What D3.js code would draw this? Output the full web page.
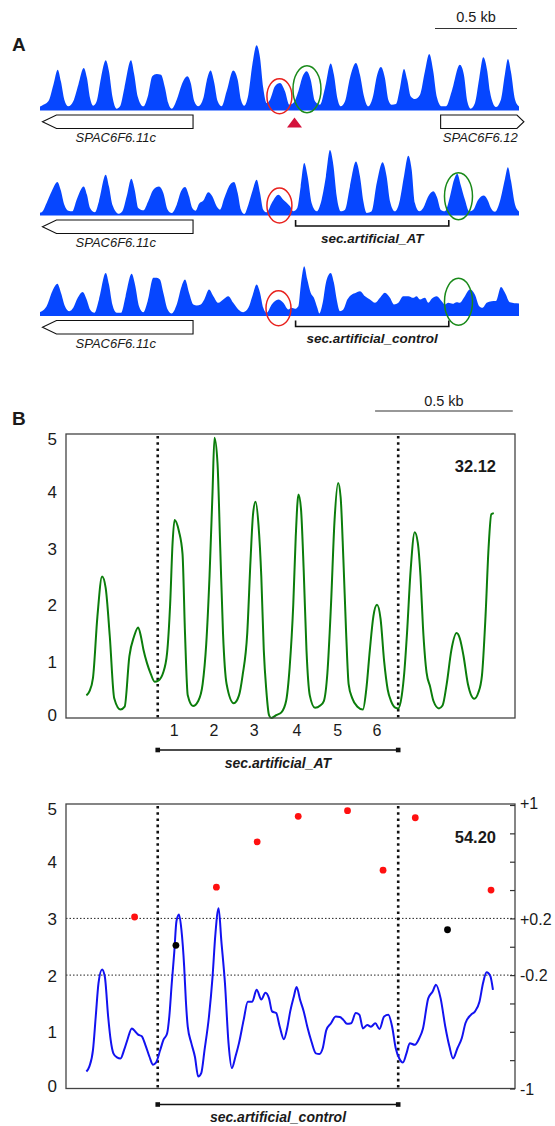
<!DOCTYPE html>
<html>
<head>
<meta charset="utf-8">
<title>Nucleosome profiles</title>
<script src="https://d3js.org/d3.v7.min.js"></script>
<style>
  body { margin: 0; background: #fff; }
  text { font-family: Arial, "Liberation Sans", sans-serif; fill: #1a1a1a; }
</style>
</head>
<body>
<script>
// ---------- panel A data: [position along locus, signal height] ----------
var trackWT = [[0,0.4],[11,0.52],[54,1.2],[87,3.8],[115,6.15],[136,4.3],[158,1.46],[184,0.42],[216,1.2],[249,3.8],[284,6.4],[305,4.84],[325,1.72],[346,0.52],[368,1.2],[396,4.84],[427,7.6],[448,5.9],[470,2.0],[498,0.05],[520,0.42],[548,3.3],[591,7.6],[612,5.4],[634,2.0],[671,0.42],[703,2.24],[729,5.1],[758,5.47],[786,5.36],[812,3.3],[833,0.94],[855,0.05],[888,1.46],[920,3.8],[957,5.1],[979,4.06],[1002,1.2],[1028,0.42],[1061,1.72],[1082,4.3],[1108,6.0],[1130,4.3],[1154,1.2],[1180,0.42],[1212,2.76],[1255,6.0],[1284,4.58],[1305,1.46],[1327,0.52],[1353,2.24],[1379,6.9],[1407,9.95],[1429,8.0],[1450,3.3],[1472,0.94],[1494,1.46],[1526,3.54],[1559,4.06],[1591,2.76],[1619,0.68],[1645,0.94],[1678,2.76],[1706,5.1],[1732,5.9],[1758,4.58],[1786,1.2],[1818,0.68],[1851,3.3],[1888,7.1],[1909,5.36],[1931,1.72],[1953,0.42],[1981,1.2],[2013,4.84],[2052,7.2],[2078,5.36],[2104,2.0],[2132,0.42],[2160,1.72],[2190,5.36],[2214,6.56],[2240,4.84],[2262,1.46],[2284,0.68],[2312,0.78],[2338,3.3],[2364,6.25],[2385,4.58],[2407,2.0],[2435,1.56],[2468,2.24],[2500,5.9],[2528,8.6],[2554,5.9],[2576,2.0],[2609,0.42],[2637,0.42],[2674,2.76],[2727,6.9],[2753,5.36],[2775,1.2],[2797,0.05],[2825,0.94],[2853,4.84],[2879,8.1],[2905,5.9],[2922,2.76],[2942,0.9],[2961,0.3],[2994,1.5],[3020,5.5],[3039,7.8],[3059,5.8],[3085,1.5],[3111,0.4]];

var trackAT = [[0,0.2],[11,0.26],[43,1.72],[76,3.54],[113,5.0],[134,3.8],[158,1.46],[184,0.52],[210,0.42],[238,2.24],[284,4.3],[305,3.0],[325,0.94],[357,0.26],[383,2.0],[427,6.15],[448,4.3],[470,1.46],[513,0.05],[535,0.42],[563,2.76],[593,5.5],[615,3.8],[638,0.94],[671,0.57],[703,2.0],[736,3.8],[773,4.3],[801,3.3],[829,0.68],[855,0.16],[888,1.46],[916,3.54],[942,4.2],[968,2.76],[989,0.94],[1011,0.52],[1033,1.6],[1061,2.1],[1093,3.4],[1119,2.76],[1147,1.2],[1169,0.68],[1197,2.5],[1234,4.58],[1260,5.0],[1284,3.3],[1305,0.68],[1327,0],[1353,1.46],[1379,3.54],[1407,5.36],[1429,3.3],[1450,0.68],[1472,0.26],[1505,1.72],[1548,3.0],[1580,2.24],[1624,1.2],[1645,0.42],[1671,0.94],[1693,4.3],[1716,7.97],[1738,5.9],[1764,1.72],[1797,0.42],[1829,2.24],[1857,5.9],[1883,10.0],[1905,7.7],[1927,2.76],[1953,0.42],[1981,0.68],[2013,4.3],[2052,8.2],[2078,5.9],[2100,2.0],[2122,0.16],[2154,0.42],[2187,4.84],[2225,8.1],[2251,5.9],[2273,2.0],[2305,0.42],[2338,2.24],[2364,5.9],[2392,9.1],[2414,6.9],[2435,1.72],[2463,0.42],[2489,0.94],[2522,2.76],[2554,3.54],[2580,2.5],[2602,0.68],[2630,0.42],[2663,2.76],[2689,5.36],[2710,6.3],[2732,4.58],[2760,2.24],[2788,0.42],[2814,0.68],[2846,2.24],[2883,2.9],[2911,2.0],[2929,0.9],[2955,0.35],[2987,2.0],[3020,5.5],[3039,7.3],[3059,5.2],[3085,1.5],[3111,0.4]];

var trackControl = [[0,0.4],[11,0.52],[43,1.3],[80,3.65],[113,4.8],[136,3.4],[162,1.3],[191,0.52],[216,1.04],[245,2.6],[277,3.5],[303,2.34],[325,0.78],[353,0.26],[383,2.34],[427,6.5],[448,4.7],[470,1.56],[498,0.26],[526,0.26],[556,2.86],[595,6.35],[617,4.7],[643,1.3],[671,0.36],[699,2.08],[736,5.73],[758,5.73],[779,5.47],[801,3.4],[829,0.78],[855,0.16],[888,1.56],[920,4.43],[942,5.47],[968,3.4],[996,1.56],[1018,1.4],[1044,1.56],[1067,2.34],[1098,3.9],[1126,2.86],[1158,1.82],[1190,2.34],[1223,2.86],[1255,1.82],[1288,0.78],[1320,0.36],[1353,1.04],[1379,2.86],[1407,4.7],[1429,3.4],[1450,1.04],[1472,0.26],[1505,1.56],[1548,2.34],[1580,1.82],[1613,0.78],[1634,1.04],[1656,0.9],[1678,1.3],[1693,4.43],[1716,7.55],[1736,5.47],[1758,3.4],[1779,2.6],[1801,1.04],[1814,0.16],[1836,1.82],[1857,4.95],[1888,6.5],[1909,4.95],[1927,2.34],[1948,0.52],[1970,0.78],[1996,2.34],[2024,3.1],[2052,3.4],[2078,3.65],[2111,2.86],[2143,2.34],[2176,1.82],[2208,2.6],[2240,3.4],[2273,2.6],[2299,1.56],[2327,1.82],[2359,2.86],[2392,2.86],[2424,2.6],[2446,2.86],[2468,2.34],[2500,2.6],[2522,1.82],[2544,2.45],[2576,2.86],[2609,2.08],[2630,1.56],[2652,1.82],[2680,1.67],[2706,1.93],[2727,1.82],[2753,2.6],[2792,3.9],[2825,3.1],[2853,1.3],[2875,1.04],[2901,1.82],[2933,2.08],[2961,2.1],[2994,4.3],[3020,3.4],[3052,1.9],[3111,1.7]];

// genes and inserted sequences (positions in the same units)
var genes = [
  {name: "SPAC6F6.11c", start: 16, end: 994, strand: "-", tracks: [0, 1, 2]},
  {name: "SPAC6F6.12", start: 2602, end: 3143, strand: "+", tracks: [0]}
];
var secRegionA = [1660, 2655];
var secLabels = ["", "sec.artificial_AT", "sec.artificial_control"];
var insertSite = 1653;
// highlighted nucleosomes: [position, height level] per track
var redMarks = [[1555, 2.0], [1555, 1.33], [1549, 0.97]];
var greenMarks = [[1734, 3.1], [2718, 2.77], [2718, 1.98]];

// ---------- panel B data: [bp, occupancy] ----------
var atProfile = [[74,0.40],[85,0.47],[98,0.71],[114,1.79],[131,2.50],[144,2.30],[159,1.44],[175,0.35],[198,0.15],[213,0.20],[230,1.09],[247,1.44],[262,1.60],[272,1.44],[281,1.21],[294,0.97],[307,0.79],[322,0.64],[335,0.66],[352,0.79],[367,1.15],[378,2.0],[387,3.1],[394,3.50],[410,3.30],[423,2.90],[432,1.5],[442,0.4],[461,0.21],[480,0.30],[496,0.6],[509,1.3],[521,2.5],[532,4.0],[539,4.95],[550,4.5],[560,3.0],[570,1.5],[583,0.6],[609,0.26],[628,0.4],[641,0.75],[658,1.5],[670,2.8],[679,3.6],[688,3.82],[699,3.4],[709,2.5],[718,1.2],[727,0.5],[737,0.05],[745,0.0],[763,0.05],[782,0.1],[799,0.3],[812,0.9],[825,2.0],[834,3.2],[844,3.95],[853,3.7],[863,2.6],[873,1.2],[885,0.4],[904,0.18],[923,0.22],[936,0.3],[949,0.8],[962,2.0],[975,3.5],[988,4.15],[997,3.9],[1007,2.8],[1017,1.5],[1026,0.6],[1039,0.35],[1058,0.2],[1078,0.15],[1090,0.5],[1103,1.2],[1116,1.8],[1129,2.0],[1142,1.75],[1155,1.0],[1168,0.5],[1180,0.3],[1197,0.18],[1206,0.17],[1219,0.4],[1228,0.8],[1238,1.5],[1251,2.6],[1266,3.28],[1277,3.1],[1287,2.5],[1296,1.6],[1309,0.8],[1322,0.55],[1334,0.3],[1354,0.17],[1367,0.22],[1382,0.6],[1399,1.2],[1418,1.5],[1430,1.4],[1443,1.1],[1459,0.6],[1482,0.34],[1497,0.45],[1510,0.75],[1523,1.8],[1534,3.0],[1544,3.6],[1553,3.62]];

var controlProfile = [[74,0.30],[85,0.39],[98,0.68],[108,1.27],[118,1.86],[131,2.10],[141,1.97],[153,1.27],[162,0.86],[172,0.62],[185,0.55],[198,0.53],[211,0.68],[223,0.86],[239,1.06],[252,1.00],[262,0.95],[275,0.92],[288,0.77],[303,0.56],[316,0.42],[326,0.45],[342,0.68],[354,0.86],[367,0.97],[375,1.27],[384,1.86],[393,2.4],[401,2.95],[410,3.07],[419,2.8],[429,2.15],[435,1.56],[442,1.09],[455,0.80],[468,0.56],[480,0.21],[491,0.27],[503,0.68],[519,1.27],[532,1.97],[542,2.7],[554,3.18],[564,2.6],[577,1.86],[590,0.80],[602,0.36],[615,0.56],[628,0.80],[645,1.21],[660,1.53],[676,1.53],[692,1.74],[709,1.57],[724,1.69],[737,1.59],[748,1.36],[763,1.33],[776,1.09],[791,0.87],[804,1.09],[814,1.36],[827,1.62],[837,1.79],[850,1.56],[863,1.36],[876,1.09],[891,0.83],[907,0.62],[920,0.61],[932,0.71],[945,1.03],[962,1.15],[979,1.27],[994,1.26],[1007,1.21],[1020,1.14],[1035,1.15],[1052,1.33],[1065,1.30],[1078,1.06],[1094,1.12],[1107,1.09],[1123,1.15],[1138,1.05],[1155,1.27],[1170,1.30],[1184,1.09],[1197,0.71],[1210,0.53],[1223,0.46],[1236,0.62],[1248,0.80],[1266,0.77],[1283,0.89],[1296,1.06],[1315,1.59],[1331,1.71],[1343,1.83],[1360,1.59],[1377,1.09],[1392,0.74],[1405,0.53],[1421,0.71],[1437,0.89],[1450,1.15],[1470,1.30],[1485,1.36],[1501,1.53],[1514,1.86],[1527,2.05],[1540,1.99],[1550,1.74]];

// per-nucleosome values on the right axis (-1..+1)
var dotPos = [249, 399, 546, 694, 843, 1022, 1151, 1268, 1385, 1543];
var dotVal = [0.21, 0.01, 0.42, 0.74, 0.92, 0.96, 0.54, 0.91, 0.12, 0.40];

var secRegionB = [333, 1206];
var nucLabels = ["1", "2", "3", "4", "5", "6"];
var nucPos = [393, 537, 683, 838, 986, 1129];
var leftTicks = [0, 1, 2, 3, 4, 5];
var rightTicks = [-1, -0.8, -0.6, -0.4, -0.2, 0, 0.2, 0.4, 0.6, 0.8, 1];
var rightLabels = {"1": "+1", "0.2": "+0.2", "-0.2": "-0.2", "-1": "-1"};
var guideLevels = [2, 3];
var scores = ["32.12", "54.20"];

// ---------- drawing ----------
var svg = d3.select("body").append("svg")
  .attr("width", 555)
  .attr("height", 1126);

var xA = d3.scaleLinear().domain([0, 3111]).range([40, 519]);
var hA = d3.scaleLinear().domain([0, 10]).range([0, 64]);
var baselines = [109, 214, 314.5];

[trackWT, trackAT, trackControl].forEach(function(t, i) {
  var base = baselines[i];
  var area = d3.area().curve(d3.curveMonotoneX)
    .x(function(d) { return xA(d[0]); })
    .y0(base + 1.5)
    .y1(function(d) { return base - hA(d[1]); });
  svg.append("path").datum(t).attr("d", area).attr("fill", "#0646ff");
});

// gene arrows
genes.forEach(function(g) {
  g.tracks.forEach(function(ti) {
    var base = baselines[ti];
    var top = base + 6, bot = base + 19.5, mid = (top + bot) / 2;
    var a = xA(g.start), b = xA(g.end);
    var p = d3.path();
    if (g.strand === "-") {
      p.moveTo(a, mid); p.lineTo(a + 14, top); p.lineTo(b, top);
      p.lineTo(b, bot); p.lineTo(a + 14, bot); p.closePath();
    } else {
      p.moveTo(a, top); p.lineTo(b - 7, top); p.lineTo(b, mid);
      p.lineTo(b - 7, bot); p.lineTo(a, bot); p.closePath();
    }
    svg.append("path").attr("d", p.toString())
      .attr("fill", "#fff").attr("stroke", "#111").attr("stroke-width", 1.1);
    svg.append("text")
      .attr("x", (a + b) / 2 - 2).attr("y", base + 33)
      .attr("text-anchor", "middle")
      .style("font-size", "13px").style("font-style", "italic")
      .text(g.name);
  });
});

// brackets for the inserted sequences
[1, 2].forEach(function(ti) {
  var base = baselines[ti];
  var a = xA(secRegionA[0]), b = xA(secRegionA[1]);
  svg.append("path")
    .attr("d", "M" + a + "," + (base + 6) + "V" + (base + 12) + "H" + b + "V" + (base + 6))
    .attr("fill", "none").attr("stroke", "#111").attr("stroke-width", 1.6);
  svg.append("text")
    .attr("x", (a + b) / 2).attr("y", base + 28.5)
    .attr("text-anchor", "middle")
    .style("font-size", "13.5px").style("font-weight", "bold").style("font-style", "italic")
    .text(secLabels[ti]);
});

// insertion site triangle
var tx = xA(insertSite);
svg.append("path")
  .attr("d", "M" + (tx - 7.5) + "," + 127.5 + "L" + tx + "," + 117.5 + "L" + (tx + 7.5) + "," + 127.5 + "Z")
  .attr("fill", "#d4123c");

// circled nucleosomes
function mark(list, color, rx, ry) {
  list.forEach(function(m, i) {
    svg.append("ellipse")
      .attr("cx", xA(m[0])).attr("cy", baselines[i] - hA(m[1]))
      .attr("rx", rx).attr("ry", ry)
      .attr("fill", "none").attr("stroke", color).attr("stroke-width", 1.5);
  });
}
mark(redMarks, "#e8221e", 12.5, 17.5);
mark(greenMarks, "#1a8a1a", 14, 23.5);

// panel letters and scale bars
svg.append("text").attr("x", 12).attr("y", 50.5)
  .style("font-size", "19px").style("font-weight", "bold").text("A");
svg.append("text").attr("x", 12).attr("y", 425)
  .style("font-size", "19px").style("font-weight", "bold").text("B");

svg.append("line").attr("x1", 435).attr("x2", 517).attr("y1", 28.5).attr("y2", 28.5)
  .attr("stroke", "#333").attr("stroke-width", 1.1);
svg.append("text").attr("x", 476).attr("y", 21.5).attr("text-anchor", "middle")
  .style("font-size", "14.5px").text("0.5 kb");

// ---------- panel B ----------
var xB = d3.scaleLinear().domain([0, 1630]).range([66, 515]);
var panels = [
  {y: d3.scaleLinear().domain([0, 5]).range([718, 435]), data: atProfile, color: "#0b7d0b", score: scores[0], label: "sec.artificial_AT"},
  {y: d3.scaleLinear().domain([0, 5]).range([1088.5, 805]), data: controlProfile, color: "#1212f0", score: scores[1], label: "sec.artificial_control"}
];

// 0.5 kb scale bar of panel B
svg.append("line").attr("x1", xB(1122)).attr("x2", xB(1622)).attr("y1", 411).attr("y2", 411)
  .attr("stroke", "#333").attr("stroke-width", 1.1);
svg.append("text").attr("x", (xB(1122) + xB(1622)) / 2).attr("y", 406).attr("text-anchor", "middle")
  .style("font-size", "14.5px").text("0.5 kb");

panels.forEach(function(p, pi) {
  var y = p.y;
  var top = y(5) - 1, bot = y(0);

  // guide lines in the lower chart
  if (pi === 1) {
    guideLevels.forEach(function(v) {
      svg.append("line").attr("x1", xB(0)).attr("x2", xB(1630))
        .attr("y1", y(v)).attr("y2", y(v))
        .attr("stroke", "#222").attr("stroke-width", 1).attr("stroke-dasharray", "1.5,2");
    });
  }

  // boundaries of the inserted sequence
  secRegionB.forEach(function(s) {
    svg.append("line").attr("x1", xB(s)).attr("x2", xB(s))
      .attr("y1", top + 2).attr("y2", bot)
      .attr("stroke", "#111").attr("stroke-width", 2.6).attr("stroke-dasharray", "2.6,3.6");
  });

  svg.append("path").datum(p.data)
    .attr("d", d3.line().curve(d3.curveMonotoneX)
      .x(function(d) { return xB(d[0]); })
      .y(function(d) { return y(d[1]); }))
    .attr("fill", "none").attr("stroke", p.color).attr("stroke-width", 2);

  // frame
  svg.append("rect").attr("x", xB(0)).attr("y", top)
    .attr("width", xB(1630) - xB(0)).attr("height", bot - top)
    .attr("fill", "none").attr("stroke", "#444").attr("stroke-width", 1.3);

  // left axis labels
  var la = svg.append("g").attr("transform", "translate(" + xB(0) + ",0)")
    .call(d3.axisLeft(y).tickValues(leftTicks).tickSize(0).tickPadding(9).tickFormat(d3.format("d")));
  la.select(".domain").remove();
  la.selectAll("text")
    .style("font-size", "17px").attr("fill", "#222")
    .attr("dy", function(d) { return d === 5 ? "0.58em" : (d === 0 ? "0.15em" : "0.35em"); });

  svg.append("text").attr("x", 496).attr("y", pi === 0 ? 471.5 : 843)
    .attr("text-anchor", "end")
    .style("font-size", "16.5px").style("font-weight", "bold")
    .text(p.score);

  // bracket below
  var by = pi === 0 ? 750 : 1104.5;
  var a = xB(secRegionB[0]), b = xB(secRegionB[1]);
  svg.append("line").attr("x1", a).attr("x2", b).attr("y1", by).attr("y2", by)
    .attr("stroke", "#111").attr("stroke-width", 1.3);
  [a, b].forEach(function(xx) {
    svg.append("rect").attr("x", xx - 2.3).attr("y", by - 2.3).attr("width", 4.6).attr("height", 4.6).attr("fill", "#111");
  });
  svg.append("text").attr("x", (a + b) / 2).attr("y", pi === 0 ? 767.5 : 1121.5)
    .attr("text-anchor", "middle")
    .style("font-size", "14px").style("font-weight", "bold").style("font-style", "italic")
    .text(p.label);
});

// nucleosome numbers under the upper chart
svg.selectAll(".nuc").data(nucLabels).enter().append("text")
  .attr("class", "nuc")
  .attr("x", function(d, i) { return xB(nucPos[i]); })
  .attr("y", 736)
  .attr("text-anchor", "middle")
  .style("font-size", "16px")
  .text(function(d) { return d; });

// right axis and dots of the lower chart
var yR = d3.scaleLinear().domain([-1, 1]).range([1088.5, 805]);
var ra = svg.append("g").attr("transform", "translate(" + xB(1630) + ",0)")
  .call(d3.axisRight(yR).tickValues(rightTicks).tickSizeInner(-5).tickSizeOuter(0).tickPadding(5)
    .tickFormat(function(d) { return rightLabels[String(d)] || ""; }));
ra.select(".domain").remove();
ra.selectAll("line").attr("stroke", "#333").attr("stroke-width", 1.2);
ra.selectAll("text").style("font-size", "16px").attr("fill", "#222")
  .attr("dy", function(d) { return d === 1 ? "0.2em" : "0.35em"; });

svg.selectAll(".dot").data(dotPos).enter().append("circle")
  .attr("class", "dot")
  .attr("cx", function(d) { return xB(d); })
  .attr("cy", function(d, i) { return yR(dotVal[i]); })
  .attr("r", 3.4)
  .attr("fill", function(d, i) { return dotVal[i] > 0.2 ? "#ff1010" : "#000"; });
</script>
</body>
</html>
